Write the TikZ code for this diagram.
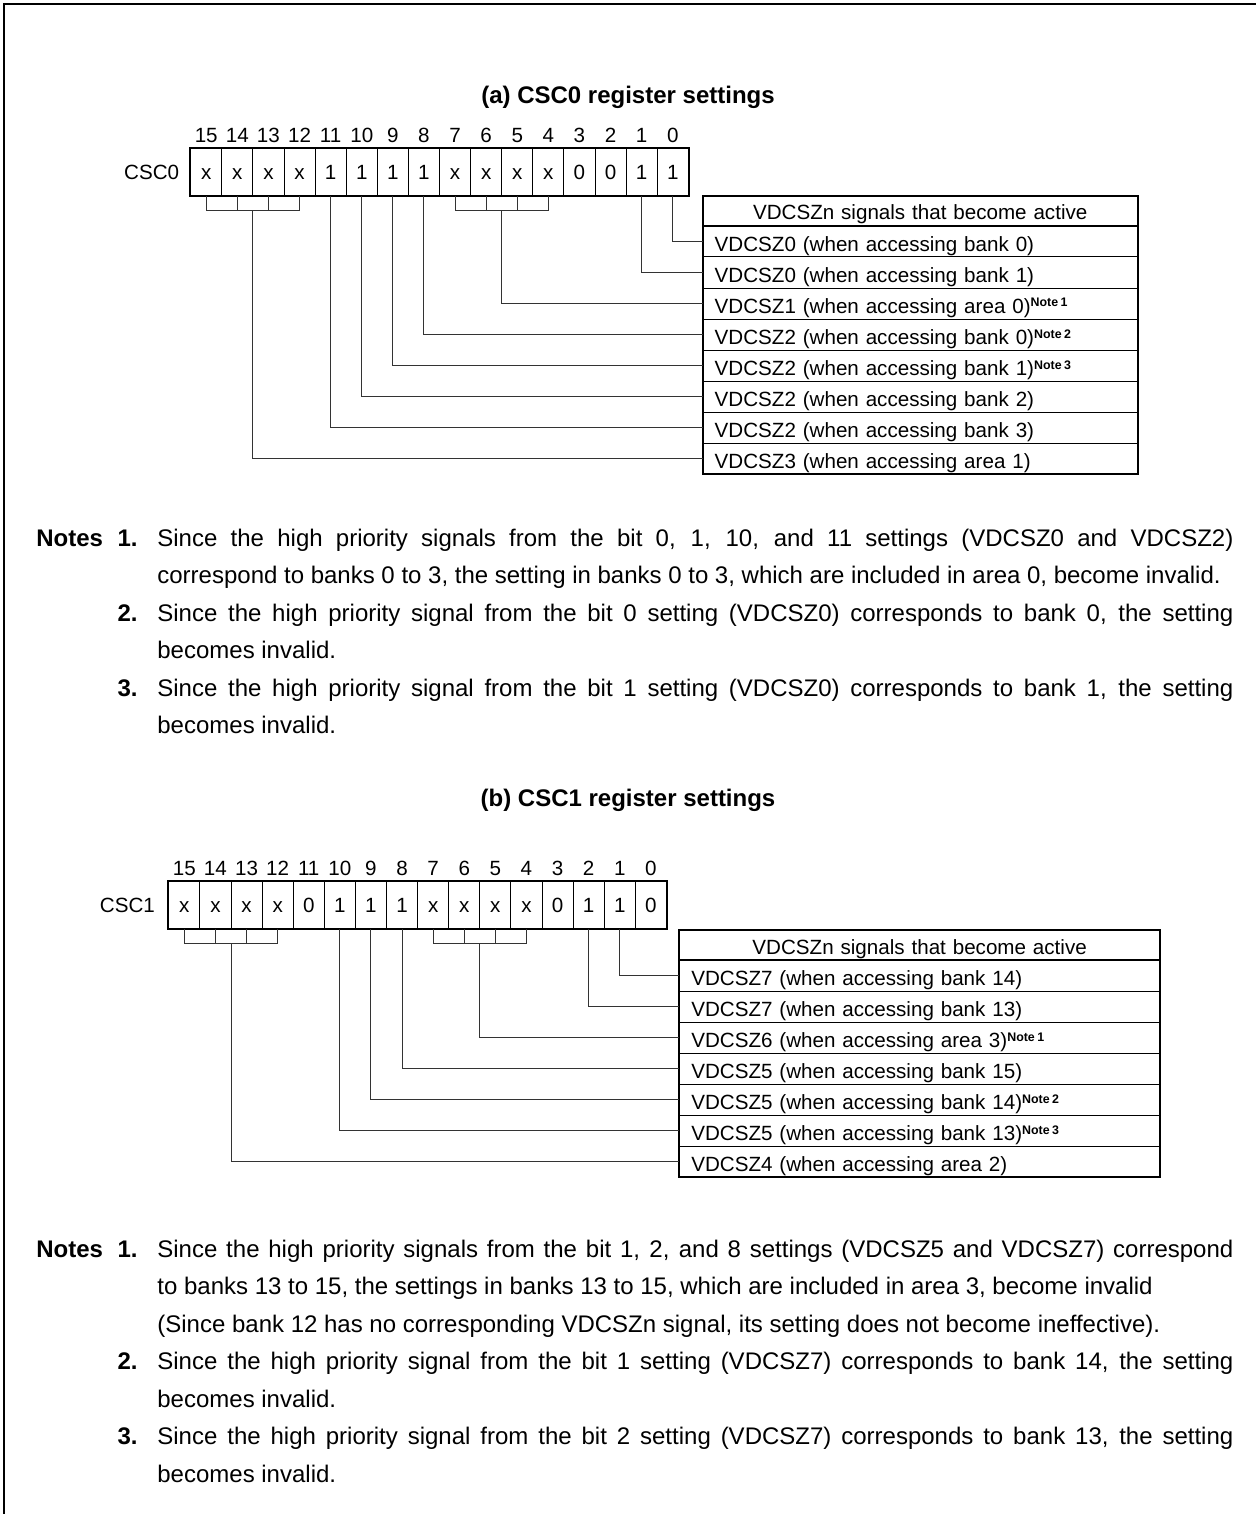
\documentclass[tikz,border=0pt]{standalone}
\usepackage{fontspec}
\setmainfont{Liberation Sans}
\usetikzlibrary{positioning,calc}
\setlength{\parindent}{0pt}
\newcommand{\noteref}[1]{\raisebox{3pt}{\fontsize{6.2}{7}\selectfont\bfseries Note\kern1.2pt#1}}

\begin{document}
\begin{tikzpicture}[
  x=0.5pt, y=-0.5pt,
  font=\fontsize{10.3}{12}\selectfont,
  cell/.style={
    draw,
    line width=0.5pt,
    minimum width=15.55pt,
    minimum height=23.5pt,
    inner sep=0pt,
    text height=7.4pt,
    text depth=0pt
  },
  bitno/.style={inner sep=0pt, text height=7.4pt, text depth=0pt},
  regname/.style={inner sep=0pt, text height=7.4pt, text depth=0pt},
  thead/.style={
    draw,
    line width=0.5pt,
    anchor=north west,
    outer sep=0pt,
    minimum height=15pt,
    inner ysep=0pt,
    inner xsep=6pt,
    text width=#1,
    text height=10pt,
    text depth=1pt,
    align=center
  },
  trow/.style={
    draw,
    line width=0.5pt,
    outer sep=0pt,
    minimum height=15.5pt,
    inner ysep=0pt,
    inner xsep=6pt,
    text width=#1,
    text height=10.5pt,
    text depth=1pt,
    align=left
  },
  outline/.style={line width=1pt},
  wire/.style={line width=0.5pt, black!80},
  title/.style={font=\fontsize{12}{14}\selectfont\bfseries},
  notehead/.style={font=\fontsize{12}{18.75}\selectfont\bfseries, inner sep=0pt, anchor=base west},
  noteno/.style={font=\fontsize{12}{18.75}\selectfont\bfseries, inner sep=0pt, anchor=base east},
  notetext/.style={
    font=\fontsize{12}{18.75}\selectfont,
    inner sep=0pt,
    anchor=base west,
    text width=538pt,
    align=justify
  }
]
\useasboundingbox (0,0) rectangle (1256,1514);
\draw[line width=1pt] (4,1514) -- (4,4) -- (1256,4);

\node[title] (titlea) at (628,97) {(a) CSC0 register settings};

\foreach \v [count=\i from 0] in {x,x,x,x,1,1,1,1,x,x,x,x,0,0,1,1} {
  \pgfmathtruncatemacro{\b}{15-\i}
  \node[cell] (a\b) at ({206.25+31.1*\i},172.5) {\v};
  \node[bitno, above=2.9pt of a\b] (na\b) {\b};
}
\node[regname, left=5.35pt of a15] (csc0) {CSC0};
\draw[outline] (a15.north west) rectangle (a0.south east);

\node[thead=205.5pt] (ta0) at (702.7,196) {VDCSZn signals that become active};
\node[trow=205.5pt, below=0pt of ta0] (ta1) {VDCSZ0 (when accessing bank 0)};
\node[trow=205.5pt, below=0pt of ta1] (ta2) {VDCSZ0 (when accessing bank 1)};
\node[trow=205.5pt, below=0pt of ta2] (ta3) {VDCSZ1 (when accessing area 0)\noteref{1}};
\node[trow=205.5pt, below=0pt of ta3] (ta4) {VDCSZ2 (when accessing bank 0)\noteref{2}};
\node[trow=205.5pt, below=0pt of ta4] (ta5) {VDCSZ2 (when accessing bank 1)\noteref{3}};
\node[trow=205.5pt, below=0pt of ta5] (ta6) {VDCSZ2 (when accessing bank 2)};
\node[trow=205.5pt, below=0pt of ta6] (ta7) {VDCSZ2 (when accessing bank 3)};
\node[trow=205.5pt, below=0pt of ta7] (ta8) {VDCSZ3 (when accessing area 1)};
\draw[outline] (ta0.north west) rectangle (ta8.south east);
\draw[outline] (ta0.south west) -- (ta0.south east);

\draw[wire] (a0.south) |- (ta1.west);
\draw[wire] (a1.south) |- (ta2.west);
\draw[wire] (a7.south) -- ++(0,14) -| (a4.south);
\draw[wire] (a6.south) -- ++(0,14);
\draw[wire] (a5.south) -- ++(0,14);
\coordinate (ma74) at ($(a6.south)!0.5!(a5.south)+(0,14)$);
\draw[wire] (ma74) |- (ta3.west);
\draw[wire] (a8.south) |- (ta4.west);
\draw[wire] (a9.south) |- (ta5.west);
\draw[wire] (a10.south) |- (ta6.west);
\draw[wire] (a11.south) |- (ta7.west);
\draw[wire] (a15.south) -- ++(0,14) -| (a12.south);
\draw[wire] (a14.south) -- ++(0,14);
\draw[wire] (a13.south) -- ++(0,14);
\coordinate (ma1512) at ($(a14.south)!0.5!(a13.south)+(0,14)$);
\draw[wire] (ma1512) |- (ta8.west);

\node[notehead] (notesa) at (36,546) {Notes};
\node[noteno] (numa1) at (138,546) {1.};
\node[notetext] (notea1) at (157,546) {Since the high priority signals from the bit 0, 1, 10, and 11 settings (VDCSZ0 and VDCSZ2)\linebreak correspond to banks 0 to 3, the setting in banks 0 to 3, which are included in area 0, become invalid.};
\node[noteno] (numa2) at (138,621) {2.};
\node[notetext] (notea2) at (157,621) {Since the high priority signal from the bit 0 setting (VDCSZ0) corresponds to bank 0, the setting\linebreak becomes invalid.};
\node[noteno] (numa3) at (138,696) {3.};
\node[notetext] (notea3) at (157,696) {Since the high priority signal from the bit 1 setting (VDCSZ0) corresponds to bank 1, the setting\linebreak becomes invalid.};

\node[title] (titleb) at (628,800) {(b) CSC1 register settings};

\foreach \v [count=\i from 0] in {x,x,x,x,0,1,1,1,x,x,x,x,0,1,1,0} {
  \pgfmathtruncatemacro{\b}{15-\i}
  \node[cell] (b\b) at ({184.35+31.1*\i},905.35) {\v};
  \node[bitno, above=2.9pt of b\b] (nb\b) {\b};
}
\node[regname, left=6.5pt of b15] (csc1) {CSC1};
\draw[outline] (b15.north west) rectangle (b0.south east);

\node[thead=228.35pt] (tb0) at (679.3,930) {VDCSZn signals that become active};
\node[trow=228.35pt, below=0pt of tb0] (tb1) {VDCSZ7 (when accessing bank 14)};
\node[trow=228.35pt, below=0pt of tb1] (tb2) {VDCSZ7 (when accessing bank 13)};
\node[trow=228.35pt, below=0pt of tb2] (tb3) {VDCSZ6 (when accessing area 3)\noteref{1}};
\node[trow=228.35pt, below=0pt of tb3] (tb4) {VDCSZ5 (when accessing bank 15)};
\node[trow=228.35pt, below=0pt of tb4] (tb5) {VDCSZ5 (when accessing bank 14)\noteref{2}};
\node[trow=228.35pt, below=0pt of tb5] (tb6) {VDCSZ5 (when accessing bank 13)\noteref{3}};
\node[trow=228.35pt, below=0pt of tb6] (tb7) {VDCSZ4 (when accessing area 2)};
\draw[outline] (tb0.north west) rectangle (tb7.south east);
\draw[outline] (tb0.south west) -- (tb0.south east);

\draw[wire] (b1.south) |- (tb1.west);
\draw[wire] (b2.south) |- (tb2.west);
\draw[wire] (b7.south) -- ++(0,14) -| (b4.south);
\draw[wire] (b6.south) -- ++(0,14);
\draw[wire] (b5.south) -- ++(0,14);
\coordinate (mb74) at ($(b6.south)!0.5!(b5.south)+(0,14)$);
\draw[wire] (mb74) |- (tb3.west);
\draw[wire] (b8.south) |- (tb4.west);
\draw[wire] (b9.south) |- (tb5.west);
\draw[wire] (b10.south) |- (tb6.west);
\draw[wire] (b15.south) -- ++(0,14) -| (b12.south);
\draw[wire] (b14.south) -- ++(0,14);
\draw[wire] (b13.south) -- ++(0,14);
\coordinate (mb1512) at ($(b14.south)!0.5!(b13.south)+(0,14)$);
\draw[wire] (mb1512) |- (tb7.west);

\node[notehead] (notesb) at (36,1257) {Notes};
\node[noteno] (numb1) at (138,1257) {1.};
\node[notetext] (noteb1) at (157,1257) {Since the high priority signals from the bit 1, 2, and 8 settings (VDCSZ5 and VDCSZ7) correspond\linebreak to banks 13 to 15, the settings in banks 13 to 15, which are included in area 3, become invalid\newline (Since bank 12 has no corresponding VDCSZn signal, its setting does not become ineffective).};
\node[noteno] (numb2) at (138,1369.5) {2.};
\node[notetext] (noteb2) at (157,1369.5) {Since the high priority signal from the bit 1 setting (VDCSZ7) corresponds to bank 14, the setting\linebreak becomes invalid.};
\node[noteno] (numb3) at (138,1444.5) {3.};
\node[notetext] (noteb3) at (157,1444.5) {Since the high priority signal from the bit 2 setting (VDCSZ7) corresponds to bank 13, the setting\linebreak becomes invalid.};
\end{tikzpicture}
\end{document}
